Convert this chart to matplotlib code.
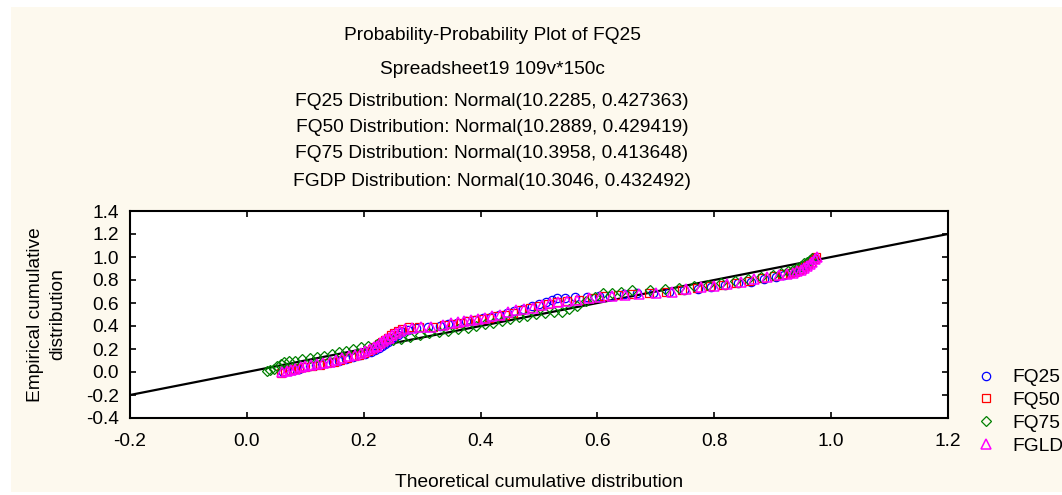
import numpy as np
import matplotlib
matplotlib.use("Agg")
import matplotlib.pyplot as plt
from matplotlib.patches import Rectangle

plt.rcParams['font.family'] = ['Liberation Sans', 'DejaVu Sans']

# FQ25 (blue circles)
fq25_x = [0.062, 0.072, 0.080, 0.090, 0.098, 0.108, 0.118, 0.128, 0.138, 0.148, 0.158, 0.170,
          0.182, 0.193, 0.203, 0.212, 0.220, 0.227, 0.232, 0.237, 0.242, 0.247, 0.252, 0.258,
          0.265, 0.275, 0.290, 0.310, 0.330, 0.345, 0.360, 0.375, 0.390, 0.405, 0.418, 0.432,
          0.445, 0.458, 0.472, 0.488, 0.500, 0.512, 0.522, 0.530, 0.545, 0.562, 0.582, 0.602,
          0.622, 0.645, 0.668, 0.695, 0.722, 0.748, 0.772, 0.795, 0.818, 0.840, 0.862, 0.885,
          0.905, 0.920, 0.932, 0.940, 0.946, 0.952, 0.957, 0.962, 0.967, 0.971]
fq25_y = [0.000, 0.010, 0.020, 0.030, 0.040, 0.050, 0.060, 0.070, 0.080, 0.090, 0.100, 0.115,
          0.130, 0.145, 0.160, 0.175, 0.190, 0.205, 0.225, 0.245, 0.265, 0.285, 0.305, 0.325,
          0.345, 0.365, 0.380, 0.390, 0.400, 0.420, 0.430, 0.440, 0.455, 0.470, 0.480, 0.495,
          0.510, 0.530, 0.550, 0.570, 0.590, 0.610, 0.630, 0.640, 0.645, 0.650, 0.655, 0.660,
          0.665, 0.675, 0.685, 0.690, 0.700, 0.710, 0.725, 0.740, 0.755, 0.770, 0.785, 0.810,
          0.830, 0.845, 0.860, 0.875, 0.890, 0.910, 0.930, 0.950, 0.970, 0.990]

# FQ50 (red squares)
fq50_x = [0.058, 0.066, 0.074, 0.082, 0.090, 0.100, 0.112, 0.125, 0.138, 0.150, 0.160, 0.172,
          0.183, 0.192, 0.200, 0.207, 0.214, 0.220, 0.226, 0.231, 0.236, 0.241, 0.246, 0.252,
          0.258, 0.266, 0.278, 0.295, 0.318, 0.338, 0.352, 0.365, 0.378, 0.390, 0.402, 0.415,
          0.428, 0.442, 0.455, 0.470, 0.485, 0.500, 0.515, 0.530, 0.548, 0.568, 0.590, 0.612,
          0.635, 0.660, 0.688, 0.718, 0.745, 0.770, 0.792, 0.815, 0.838, 0.860, 0.882, 0.902,
          0.918, 0.930, 0.938, 0.945, 0.950, 0.956, 0.961, 0.966, 0.970, 0.974]
fq50_y = [-0.005, 0.005, 0.015, 0.025, 0.035, 0.045, 0.055, 0.065, 0.075, 0.090, 0.105, 0.120,
          0.135, 0.150, 0.165, 0.180, 0.200, 0.220, 0.240, 0.260, 0.280, 0.300, 0.320, 0.340,
          0.360, 0.375, 0.390, 0.395, 0.395, 0.405, 0.420, 0.430, 0.440, 0.450, 0.460, 0.470,
          0.485, 0.500, 0.515, 0.535, 0.555, 0.575, 0.590, 0.605, 0.615, 0.630, 0.645, 0.660,
          0.670, 0.680, 0.690, 0.700, 0.715, 0.730, 0.745, 0.760, 0.775, 0.795, 0.815, 0.835,
          0.850, 0.860, 0.870, 0.885, 0.900, 0.920, 0.940, 0.960, 0.980, 1.000]

# FQ75 (green diamonds)
fq75_x = [0.035, 0.040, 0.046, 0.052, 0.058, 0.064, 0.072, 0.082, 0.095, 0.108, 0.120, 0.132,
          0.145, 0.158, 0.170, 0.182, 0.195, 0.208, 0.222, 0.236, 0.250, 0.264, 0.280, 0.296,
          0.312, 0.328, 0.345, 0.362, 0.378, 0.393, 0.408, 0.422, 0.436, 0.450, 0.465, 0.480,
          0.495, 0.510, 0.525, 0.540, 0.552, 0.565, 0.580, 0.595, 0.610, 0.625, 0.640, 0.660,
          0.690, 0.715, 0.740, 0.765, 0.790, 0.812, 0.835, 0.858, 0.880, 0.900, 0.915, 0.926,
          0.935, 0.942, 0.948, 0.954, 0.959, 0.964, 0.968]
fq75_y = [0.005, 0.015, 0.030, 0.050, 0.070, 0.085, 0.095, 0.100, 0.110, 0.120, 0.130, 0.140,
          0.155, 0.170, 0.185, 0.200, 0.215, 0.230, 0.245, 0.260, 0.275, 0.290, 0.305, 0.320,
          0.335, 0.345, 0.355, 0.370, 0.385, 0.400, 0.415, 0.430, 0.445, 0.460, 0.475, 0.490,
          0.505, 0.515, 0.525, 0.525, 0.545, 0.570, 0.620, 0.655, 0.685, 0.690, 0.695, 0.710,
          0.715, 0.720, 0.730, 0.745, 0.760, 0.775, 0.790, 0.810, 0.825, 0.845, 0.860, 0.875,
          0.890, 0.905, 0.925, 0.945, 0.960, 0.975, 0.990]

# FGLD (magenta triangles)
fgld_x = [0.060, 0.068, 0.075, 0.083, 0.092, 0.100, 0.110, 0.120, 0.130, 0.142, 0.152, 0.163,
          0.175, 0.185, 0.195, 0.203, 0.210, 0.217, 0.222, 0.228, 0.233, 0.238, 0.243, 0.248,
          0.255, 0.262, 0.270, 0.282, 0.298, 0.315, 0.335, 0.350, 0.362, 0.372, 0.383, 0.395,
          0.408, 0.420, 0.433, 0.447, 0.460, 0.475, 0.490, 0.505, 0.518, 0.532, 0.548, 0.565,
          0.585, 0.605, 0.625, 0.648, 0.672, 0.700, 0.728, 0.752, 0.778, 0.800, 0.822, 0.845,
          0.868, 0.890, 0.910, 0.925, 0.935, 0.942, 0.948, 0.953, 0.958, 0.963, 0.968, 0.972,
          0.975]
fgld_y = [0.000, 0.010, 0.020, 0.030, 0.040, 0.050, 0.060, 0.070, 0.080, 0.090, 0.105, 0.120,
          0.135, 0.150, 0.165, 0.180, 0.200, 0.215, 0.230, 0.250, 0.270, 0.285, 0.300, 0.320,
          0.340, 0.355, 0.370, 0.385, 0.390, 0.395, 0.410, 0.425, 0.432, 0.440, 0.450, 0.460,
          0.470, 0.485, 0.500, 0.520, 0.540, 0.550, 0.560, 0.580, 0.600, 0.610, 0.620, 0.630,
          0.640, 0.650, 0.660, 0.670, 0.680, 0.690, 0.700, 0.720, 0.740, 0.750, 0.765, 0.785,
          0.810, 0.830, 0.845, 0.855, 0.865, 0.875, 0.890, 0.905, 0.920, 0.940, 0.960, 0.980,
          1.000]

titles = ["Probability-Probability Plot of FQ25",
          "Spreadsheet19 109v*150c",
          "FQ25 Distribution: Normal(10.2285, 0.427363)",
          "FQ50 Distribution: Normal(10.2889, 0.429419)",
          "FQ75 Distribution: Normal(10.3958, 0.413648)",
          "FGDP Distribution: Normal(10.3046, 0.432492)"]
title_y = [36, 70, 102, 128, 154, 181]  # pixel rows from top

bg = '#FDF9EE'
W, H = 1062, 495
fs = 13.8

fig = plt.figure(figsize=(W / 100, H / 100), dpi=100)
fig.patch.set_facecolor('white')
fig.patches.append(Rectangle((11 / W, 3 / H), 1, 1 - 10 / H, transform=fig.transFigure,
                             facecolor=bg, edgecolor='none', zorder=-10))

ax = fig.add_axes([130 / W, 1 - 418 / H, 818 / W, 207 / H])
ax.set_facecolor('white')

ax.axline((0, 0), slope=1, color='black', lw=1.6, zorder=1)

ms = 6
ax.plot(fq25_x, fq25_y, ls='none', marker='o', ms=ms, mfc='none', mec='#0000FF', mew=0.9, label='FQ25', zorder=2)
ax.plot(fq50_x, fq50_y, ls='none', marker='s', ms=ms, mfc='none', mec='#FF0000', mew=0.9, label='FQ50', zorder=3)
ax.plot(fq75_x, fq75_y, ls='none', marker='D', ms=ms - 1, mfc='none', mec='#008000', mew=0.9, label='FQ75', zorder=4)
ax.plot(fgld_x, fgld_y, ls='none', marker='^', ms=ms + 1.5, mfc='none', mec='#FF00FF', mew=1.1, label='FGLD', zorder=5)

ax.set_xlim(-0.2, 1.2)
ax.set_ylim(-0.4, 1.4)
ax.set_xticks(np.arange(-0.2, 1.21, 0.2))
ax.set_yticks(np.arange(-0.4, 1.41, 0.2))
ax.xaxis.set_major_formatter(plt.FormatStrFormatter('%.1f'))
ax.yaxis.set_major_formatter(plt.FormatStrFormatter('%.1f'))
ax.tick_params(direction='in', top=True, right=True, length=4, width=1.2, labelsize=fs)
ax.tick_params(axis='x', pad=11)
ax.tick_params(axis='y', pad=8)
for s in ax.spines.values():
    s.set_linewidth(1.5)

ax.set_xlabel('Theoretical cumulative distribution', fontsize=fs, labelpad=17)
ax.set_ylabel('Empirical cumulative\ndistribution', fontsize=fs, labelpad=14, linespacing=1.45)

for t, yp in zip(titles, title_y):
    fig.text(492 / W, 1 - yp / H, t, ha='center', va='center', fontsize=fs)

fig.legend(loc='upper left', bbox_to_anchor=(978 / W, 1 - 369 / H), frameon=False,
           fontsize=fs, handlelength=0.8, handletextpad=1.0, labelspacing=0.28,
           borderpad=0, borderaxespad=0)

fig.savefig('out.png', dpi=100, facecolor=fig.get_facecolor())
